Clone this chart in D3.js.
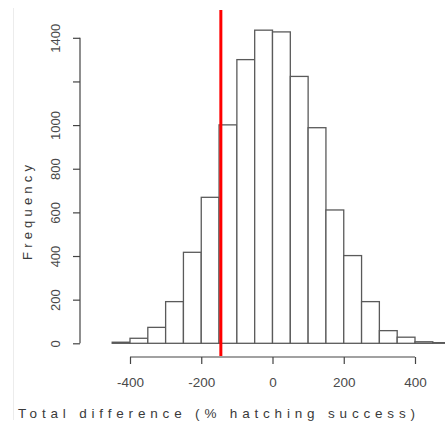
<!DOCTYPE html>
<html>
<head>
<meta charset="utf-8">
<script src="https://cdn.jsdelivr.net/npm/d3@7"></script>
<style>
  html, body { margin: 0; padding: 0; background: #fff; }
  svg { display: block; font-family: "Liberation Sans", Arial, sans-serif; }
</style>
</head>
<body>
<svg id="chart" width="445" height="427"></svg>
<script>
// Histogram of total difference in hatching success (bins of 50)
const binStarts = [-450, -400, -350, -300, -250, -200, -150, -100, -50, 0, 50, 100, 150, 200, 250, 300, 350, 400, 450];
const binWidth = 50;
const frequencies = [5, 23, 73, 191, 417, 669, 1001, 1300, 1435, 1427, 1223, 988, 611, 402, 191, 58, 28, 7, 3];
const observedValue = -145;
const xTicks = [-400, -200, 0, 200, 400];
const yTicks = [0, 200, 400, 600, 800, 1000, 1200, 1400];
const yTickLabels = ["0", "200", "400", "600", "800", "1000", "", "1400"];

const svg = d3.select("#chart");

const x = d3.scaleLinear().domain([-400, 400]).range([130, 415]);
const y = d3.scaleLinear().domain([0, 1400]).range([343.3, 37.8]);

const bins = binStarts.map((s, i) => ({ x0: s, x1: s + binWidth, n: frequencies[i] }));

// faint frame line on the left
svg.append("line")
  .attr("x1", 13.5).attr("x2", 13.5).attr("y1", 8).attr("y2", 420)
  .attr("stroke", "#ececec").attr("stroke-width", 1);

// bars
svg.append("g").selectAll("rect").data(bins).join("rect")
  .attr("x", d => x(d.x0))
  .attr("y", d => y(d.n))
  .attr("width", d => x(d.x1) - x(d.x0))
  .attr("height", d => y(0) - y(d.n))
  .attr("fill", "#fff")
  .attr("stroke", "#5a5a5a")
  .attr("stroke-width", 1.3);

// y axis (line spans the tick range, labels rotated)
const yAxis = svg.append("g").attr("transform", "translate(80,0)")
  .call(d3.axisLeft(y).tickValues(yTicks).tickSize(7).tickFormat((d, i) => yTickLabels[i]));
yAxis.select(".domain").attr("d", `M-0,${y(0)}V${y(1400)}`).attr("stroke", "#444").attr("stroke-width", 1.2);
yAxis.selectAll(".tick line").attr("stroke", "#444").attr("stroke-width", 1.2);
yAxis.selectAll(".tick text")
  .attr("x", 0).attr("y", 0).attr("dy", "0.35em")
  .attr("transform", "translate(-25,0) rotate(-90)")
  .attr("text-anchor", "middle")
  .attr("font-size", 13)
  .attr("fill", "#4a4a4a");

// x axis
const xAxis = svg.append("g").attr("transform", "translate(0,357)")
  .call(d3.axisBottom(x).tickValues(xTicks).tickSize(7).tickFormat(d => String(d)));
xAxis.select(".domain").attr("d", `M${x(-400)},0H${x(400)}`).attr("stroke", "#444").attr("stroke-width", 1.2);
xAxis.selectAll(".tick line").attr("stroke", "#444").attr("stroke-width", 1.2);
xAxis.selectAll(".tick text")
  .attr("y", 25).attr("dy", "0.35em")
  .attr("font-size", 13.5)
  .attr("fill", "#4a4a4a");

// observed value marker
svg.append("line")
  .attr("x1", x(observedValue)).attr("x2", x(observedValue))
  .attr("y1", 10).attr("y2", 356)
  .attr("stroke", "#f00").attr("stroke-width", 3);

// axis titles
svg.append("text")
  .attr("x", 18).attr("y", 418)
  .attr("font-size", 13.5).attr("fill", "#3a3a3a")
  .attr("textLength", 397).attr("lengthAdjust", "spacing")
  .text("Total difference (% hatching success)");

svg.append("text")
  .attr("transform", "translate(32,260) rotate(-90)")
  .attr("font-size", 13).attr("fill", "#3a3a3a")
  .attr("textLength", 95).attr("lengthAdjust", "spacing")
  .text("Frequency");
</script>
</body>
</html>
